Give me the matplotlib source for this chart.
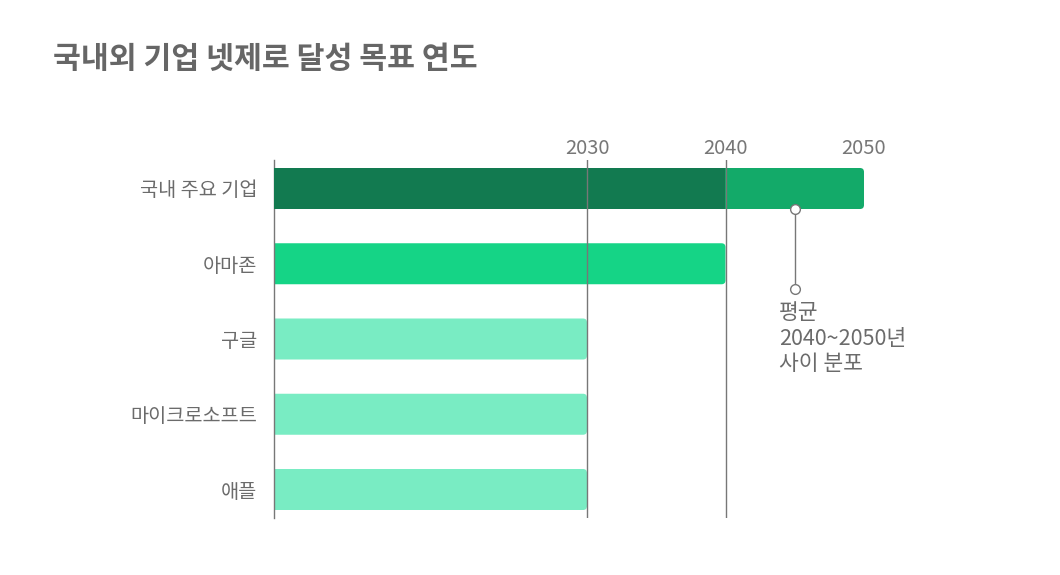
import matplotlib
matplotlib.use('Agg')
import matplotlib.pyplot as plt
from matplotlib.patches import FancyBboxPatch

plt.rcParams['font.family'] = ['Noto Sans CJK KR', 'DejaVu Sans']

# 데이터
companies = ['국내 주요 기업', '아마존', '구글', '마이크로소프트', '애플']
target_year = [2050, 2040, 2030, 2030, 2030]
domestic_range = (2040, 2050)   # 국내 주요 기업: 2040~2050년
domestic_avg = 2045
year_ticks = [2030, 2040, 2050]

colors = ['#13aa69', '#15d486', '#79ecc3', '#79ecc3', '#79ecc3']
dark = '#127a50'
grey = '#777777'
txt = '#6b6b6b'

W, H = 1060, 575
fig = plt.figure(figsize=(W / 100, H / 100), dpi=100)

# 축 위치 (픽셀 기준)
ax_l, ax_r, ax_t, ax_b = 274, 1000, 160, 518
ax = fig.add_axes([ax_l / W, 1 - ax_b / H, (ax_r - ax_l) / W, (ax_b - ax_t) / H])

px_per_year = 13.85
x0 = 2030 - (587 - ax_l) / px_per_year
x1 = x0 + (ax_r - ax_l) / px_per_year
ax.set_xlim(x0, x1)
row_px = 75.25
pad_rows = (188.5 - ax_t) / row_px
ax.set_ylim(len(companies) - 1 + pad_rows, -pad_rows)

bar_h = 41 / row_px
r_px = 4
aspect = px_per_year / row_px

# 막대 (오른쪽 끝 둥글게, 왼쪽은 축 밖으로 잘림)
for i, (yr, c) in enumerate(zip(target_year, colors)):
    left = x0 - 2
    p = FancyBboxPatch((left, i - bar_h / 2), yr - left, bar_h,
                       boxstyle='round,pad=0,rounding_size=%f' % (r_px / px_per_year),
                       mutation_aspect=aspect, fc=c, ec='none', zorder=2)
    ax.add_patch(p)

# 국내 주요 기업: 2040년까지 진한 색
ax.barh(0, domestic_range[0] - x0, left=x0, height=bar_h, color=dark, zorder=3)

# 눈금선
for t in [2030, 2040]:
    ax.axvline(t, color=grey, lw=1, zorder=4)

ax.xaxis.tick_top()
ax.set_xticks(year_ticks)
ax.set_xticklabels([str(t) for t in year_ticks])
ax.tick_params(axis='x', length=0, pad=1, labelsize=14.5, labelcolor=grey)
ax.set_yticks(range(len(companies)))
ax.set_yticklabels(companies)
ax.tick_params(axis='y', length=0, pad=12, labelsize=14.2, labelcolor=txt)

for s in ['top', 'right', 'bottom']:
    ax.spines[s].set_visible(False)
ax.spines['left'].set_color(grey)
ax.spines['left'].set_linewidth(1)

# 평균 표시
y_top = bar_h / 2
y_bot = y_top + 80 / row_px
ax.plot([domestic_avg, domestic_avg], [y_top, y_bot], color=grey, lw=1, zorder=5,
        clip_on=False)
ax.plot([domestic_avg, domestic_avg], [y_top, y_bot], 'o', ms=7, mfc='white',
        mec=grey, mew=1, zorder=6, clip_on=False)
ax.annotate('평균\n2040~2050년\n사이 분포', xy=(domestic_avg, y_bot), xytext=(-11.5, -9.5),
            textcoords='offset points', ha='left', va='top', fontsize=15.5,
            color=txt, linespacing=1.2)

fig.text(53 / W, 1 - 59 / H, '국내외 기업 넷제로 달성 목표 연도', fontsize=21.8,
         fontweight='bold', color='#666666', ha='left', va='center')

fig.savefig('out.png', dpi=100)
